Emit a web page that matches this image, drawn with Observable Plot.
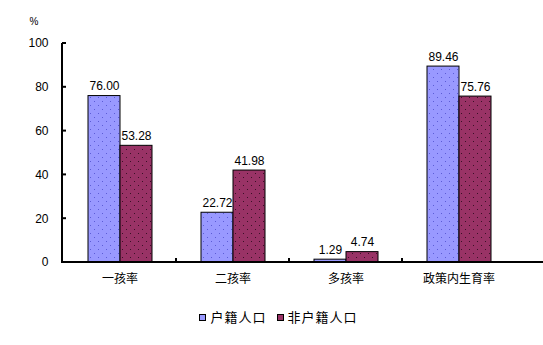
<!DOCTYPE html>
<html><head><meta charset="utf-8">
<script src="https://cdn.jsdelivr.net/npm/d3@7"></script>
<script src="https://cdn.jsdelivr.net/npm/@observablehq/plot@0.6"></script>
<style>
body{margin:0;background:#fff;font-family:"Liberation Sans",Arial,sans-serif;}
#chart{width:543px;}
.legend{display:flex;justify-content:center;gap:10px;font:13px "Noto Sans CJK SC",sans-serif;letter-spacing:1px;line-height:14px;margin-top:10px;color:#000;padding-left:14px;}
.legend span.item{display:flex;align-items:center;gap:4px;}
.legend i{display:inline-block;width:5px;height:5px;border:1px solid #000;}
</style></head><body><div id="chart"></div>
<script>
const categories = ["一孩率","二孩率","多孩率","政策内生育率"];
const series = ["户籍人口","非户籍人口"];
const huji = [76.00, 22.72, 1.29, 89.46];
const feihuji = [53.28, 41.98, 4.74, 75.76];
const yTicks = [0, 20, 40, 60, 80, 100];
const colors = ["#9999FF", "#993366"];
const dotColors = ["#5c5cd6", "#3a1026"];

const data = categories.flatMap((c, i) => [
  {cat: c, ser: series[0], v: huji[i]},
  {cat: c, ser: series[1], v: feihuji[i]}
]);

const chart = Plot.plot({
  width: 543, height: 300,
  marginLeft: 62, marginRight: 27, marginTop: 43, marginBottom: 38,
  style: {fontFamily: '"Liberation Sans", Arial, sans-serif', fontSize: "12px", color: "#000", background: "#fff"},
  fx: {domain: categories, padding: 0, label: null},
  x: {domain: series, paddingInner: 0, paddingOuter: 0.75, axis: null},
  y: {domain: [0, 100], label: null},
  color: {domain: series, range: series.map((s, i) => `url(#pat${i})`)},
  marks: [
    Plot.axisY(yTicks, {tickSize: 0, tickPadding: 15, label: null, fontSize: 12}),
    Plot.axisFx({anchor: "bottom", tickSize: 0, tickPadding: 12, label: null, fontFamily: '"Noto Sans CJK SC", sans-serif', fontSize: 12, style: {letterSpacing: "0.5px"}}),
    Plot.barY(data, {fx: "cat", x: "ser", y: "v", fill: "ser", stroke: "#000", strokeWidth: 1}),
    Plot.text(data, {fx: "cat", x: "ser", y: "v", text: d => d.v.toFixed(2), lineAnchor: "bottom", dy: -6, fontSize: 12})
  ]
});

const svg = d3.select(chart.tagName === "svg" ? chart : chart.querySelector("svg"));
// dotted fill patterns
const defs = svg.insert("defs", ":first-child");
colors.forEach((c, i) => {
  const p = defs.append("pattern").attr("id", `pat${i}`).attr("patternUnits", "userSpaceOnUse").attr("width", 8).attr("height", 8);
  p.append("rect").attr("width", 8).attr("height", 8).attr("fill", c);
  p.append("rect").attr("x", 1).attr("y", 1).attr("width", 1).attr("height", 1).attr("fill", dotColors[i]);
  p.append("rect").attr("x", 5).attr("y", 5).attr("width", 1).attr("height", 1).attr("fill", dotColors[i]);
});

// axis lines and inward ticks drawn from the plot's own scales
const fx = chart.scale("fx"), x = chart.scale("x"), y = chart.scale("y");
const g = svg.append("g").attr("stroke", "#000").attr("fill", "none");
const x0 = fx.range[0];
const lastCat = categories[categories.length - 1];
const xEnd = fx.apply(lastCat) + x.apply(series[1]) + x.bandwidth + 6;
g.append("line").attr("x1", x0).attr("x2", x0).attr("y1", y.apply(0)).attr("y2", y.apply(100)).attr("stroke-width", 2);
g.append("line").attr("x1", x0 - 1).attr("x2", xEnd).attr("y1", y.apply(0)).attr("y2", y.apply(0)).attr("stroke-width", 2);
yTicks.forEach(t => g.append("line").attr("x1", x0).attr("x2", x0 + 4).attr("y1", y.apply(t)).attr("y2", y.apply(t)).attr("stroke-width", 2));
categories.slice(1).forEach(c => {
  const xx = fx.apply(c);
  g.append("line").attr("x1", xx).attr("x2", xx).attr("y1", y.apply(0)).attr("y2", y.apply(0) - 4).attr("stroke-width", 2);
});
svg.append("text").attr("x", 34).attr("y", 25).attr("font-size", 10).attr("fill", "#000").attr("text-anchor", "middle").text("%");

document.getElementById("chart").append(chart);

const legend = document.createElement("div");
legend.className = "legend";
series.forEach((s, i) => {
  const it = document.createElement("span");
  it.className = "item";
  const sw = document.createElement("i");
  sw.style.background = colors[i];
  it.append(sw, document.createTextNode(s));
  legend.append(it);
});
document.getElementById("chart").append(legend);
</script></body></html>
